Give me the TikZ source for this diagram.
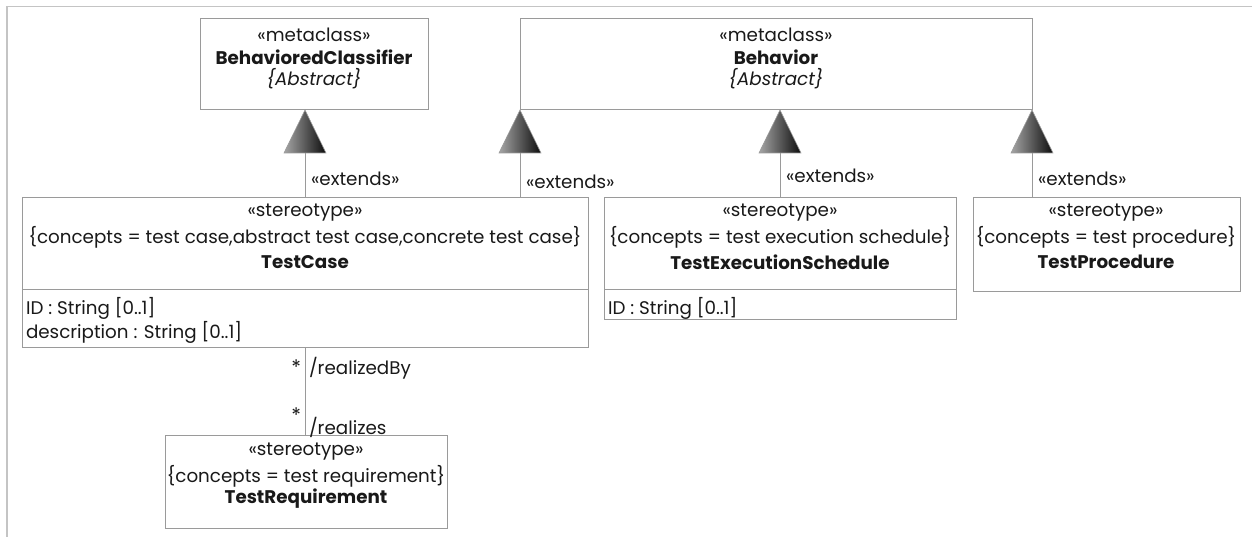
\documentclass[tikz,border=0pt]{standalone}
\usepackage{fontspec}
\setmainfont{Poppins}
\usetikzlibrary{calc}
\definecolor{boxline}{HTML}{9A9A9A}
\definecolor{frameline}{HTML}{C4C4C4}
\newcommand{\dfont}{\fontsize{18.3}{22}\selectfont}
\tikzset{
  box/.style={draw=boxline, line width=1pt, inner sep=0pt, outer sep=0pt, anchor=north west, fill=white},
  txt/.style={inner sep=0pt, outer sep=0pt, font=\dfont, text=black!90},
  btxt/.style={txt, font=\dfont\bfseries},
  itxt/.style={txt, font=\dfont\itshape},
  ltxt/.style={txt, anchor=west},
  rtxt/.style={txt, anchor=east},
  conn/.style={draw=boxline, line width=1pt},
  gentri/.style={draw=boxline, line width=0.6pt, left color=black!35, right color=black!95},
  divider/.style={draw=boxline, line width=1pt},
}
\begin{document}
\begin{tikzpicture}[x=1pt, y=-1pt]
\useasboundingbox (0,0) rectangle (1253,537);
% frame
\draw[frameline, line width=2pt] (7,537) -- (7,7);
\draw[frameline, line width=1pt] (6,7) -- (1252,7);

% boxes
\node[box, minimum width=228pt, minimum height=91pt] (bc) at (200,19) {};
\node[box, minimum width=512pt, minimum height=91pt] (beh) at (520,19) {};
\node[box, minimum width=566pt, minimum height=149pt] (tc) at (22,198) {};
\node[box, minimum width=352pt, minimum height=122pt] (tes) at (604,198) {};
\node[box, minimum width=267pt, minimum height=94pt] (tp) at (973,198) {};
\node[box, minimum width=282pt, minimum height=93pt] (tr) at (165,435) {};

% dividers
\draw[divider] (tc.west |- 0,290) coordinate (tcd1) -- (tc.east |- 0,290) coordinate (tcd2);
\draw[divider] (tes.west |- 0,290) coordinate (tesd1) -- (tes.east |- 0,290) coordinate (tesd2);

% BehavioredClassifier
\node[txt] (bc1) at (314,35) {«metaclass»};
\node[btxt] (bc2) at (314,57) {BehavioredClassifier};
\node[itxt] (bc3) at (314,79) {\{Abstract\}};

% Behavior
\node[txt] (beh1) at (776,35) {«metaclass»};
\node[btxt] (beh2) at (776,57) {Behavior};
\node[itxt] (beh3) at (776,79) {\{Abstract\}};

% TestCase
\node[txt] (tc1) at (305,213) {«stereotype»};
\node[txt] (tc2) at (305,237) {\{concepts = test case,abstract test case,concrete test case\}};
\node[btxt] (tc3) at (305,262) {TestCase};
\node[ltxt] (tca1) at (26,308) {ID : String [0..1]};
\node[ltxt] (tca2) at (26,332) {description : String [0..1]};

% TestExecutionSchedule
\node[txt] (tes1) at (780,213) {«stereotype»};
\node[txt] (tes2) at (780,237) {\{concepts = test execution schedule\}};
\node[btxt] (tes3) at (780,262) {TestExecutionSchedule};
\node[ltxt] (tesa1) at (608,308) {ID : String [0..1]};

% TestProcedure
\node[txt] (tp1) at (1106,213) {«stereotype»};
\node[txt] (tp2) at (1106,237) {\{concepts = test procedure\}};
\node[btxt] (tp3) at (1106,262) {TestProcedure};

% TestRequirement
\node[txt] (tr1) at (306,452) {«stereotype»};
\node[txt] (tr2) at (306,476) {\{concepts = test requirement\}};
\node[btxt] (tr3) at (306,499) {TestRequirement};

% generalizations (extends)
\coordinate (a1) at (tc.north |- bc.south);
\draw[conn] (tc.north) -- ($(a1)+(0,43)$);
\shadedraw[gentri] (a1) -- ++(-21,43) -- ++(42,0) -- cycle;
\node[ltxt] (e1) at (311,179) {«extends»};

\coordinate (a2) at (beh.south west);
\draw[conn] (beh.south west |- tc.north) -- ($(a2)+(0,43)$);
\shadedraw[gentri] (a2) -- ++(-21,43) -- ++(42,0) -- cycle;
\node[ltxt] (e2) at (526,182) {«extends»};

\coordinate (a3) at (tes.north |- beh.south);
\draw[conn] (tes.north) -- ($(a3)+(0,43)$);
\shadedraw[gentri] (a3) -- ++(-21,43) -- ++(42,0) -- cycle;
\node[ltxt] (e3) at (786,176) {«extends»};

\coordinate (a4) at (beh.south east);
\draw[conn] (beh.south east |- tp.north) -- ($(a4)+(0,43)$);
\shadedraw[gentri] (a4) -- ++(-21,43) -- ++(42,0) -- cycle;
\node[ltxt] (e4) at (1038,179) {«extends»};

% association
\draw[conn] (tc.south) -- (tc.south |- tr.north);
\node[rtxt, font=\fontsize{20}{22}\selectfont] (m1) at (301,367) {*};
\node[ltxt] (r1) at (309,368) {/realizedBy};
\node[rtxt, font=\fontsize{20}{22}\selectfont] (m2) at (301,415) {*};
\node[ltxt] (r2) at (309,427) {/realizes};
\end{tikzpicture}
\end{document}
